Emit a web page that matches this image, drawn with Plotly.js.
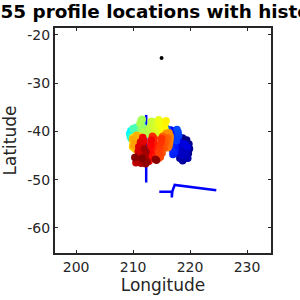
<!DOCTYPE html>
<html>
<head>
<meta charset="utf-8">
<script src="https://cdn.plot.ly/plotly-3.0.1.min.js"></script>
<style>html,body{margin:0;padding:0;background:#fff;}#chart{width:300px;height:300px;}</style>
</head>
<body>
<div id="chart"></div>
<script>
// Profile locations in time order (earliest first), colored by profile order (jet)
const profLon = [
  // earliest (dark blue)
  218.7,219.4,219.8,219.9,219.7,219.3,218.7,218.2,218.0,218.3,219.6,219.4,219.2,218.6,218.1,217.9,218.1,218.5,219.1,219.5,
  // blue
  217.7,217.9,217.6,217.2,216.6,216.3,216.4,216.8,217.3,217.4,217.3,217.0,217.0,216.6,216.5,217.0,217.6,218.0,217.9,217.7,
  // azure
  216.0,215.5,215.0,214.5,214.0,213.5,213.0,212.5,212.0,211.5,211.2,211.5,212.2,213.0,213.8,214.6,215.3,213.2,212.3,211.6,
  210.3,210.7,210.9,211.1,210.3,210.8,210.1,211.1,210.5,211.3,
  // cyan / aqua
  211.3,210.8,210.2,209.6,209.4,209.9,210.5,211.1,211.5,210.9,210.2,209.7,209.5,210.1,210.8,211.4,211.7,211.2,210.5,210.0,
  // green
  211.2,211.1,211.2,211.5,211.5,211.5,212.3,212.3,212.0,211.5,211.5,211.6,212.0,211.4,211.6,212.5,211.4,211.6,211.2,211.9,
  // yellow-green
  212.7,212.8,213.1,213.2,213.5,213.6,213.7,214.1,214.2,214.3,214.5,214.9,215.0,215.2,215.6,215.6,215.6,215.8,
  // orange
  210.9,210.4,210.0,209.9,210.2,210.0,209.9,210.2,210.5,210.6,210.4,210.6,211.2,209.95,210.1,210.3,
  216.1,215.8,216.3,216.5,216.5,216.4,216.3,216.1,215.8,216.0,216.1,
  // red
  215.2,215.6,215.6,215.4,215.1,214.8,214.5,214.5,214.7,214.9,215.0,
  213.4,213.7,213.7,213.5,213.3,213.0,212.8,212.7,212.9,213.1,213.2,
  211.7,211.9,211.7,211.3,211.0,210.9,211.5,211.3,
  // latest (dark red)
  210.9,210.6,210.5,211.0,211.4,211.8,212.1,212.3,212.0,212.5,212.2,213.9,214.1,210.3,211.6
];
const profLat = [
  -41.4,-41.8,-42.6,-43.6,-44.6,-45.5,-46.1,-45.6,-44.6,-43.7,-45.6,-43.8,-44.8,-45.0,-44.2,-43.1,-42.2,-42.6,-42.6,-43.2,
  -42.7,-41.7,-40.7,-39.9,-39.7,-40.4,-41.4,-42.3,-43.0,-43.6,-44.4,-44.8,-44.2,-43.4,-42.6,-41.4,-42.0,-40.9,-40.2,-39.6,
  -39.5,-38.7,-39.3,-40.0,-39.1,-38.5,-39.3,-40.1,-39.3,-38.7,-39.5,-40.3,-40.4,-40.4,-40.3,-38.5,-40.1,-38.1,-39.9,-39.9,
  -39.8,-40.3,-39.5,-40.0,-40.6,-40.7,-40.1,-39.3,-39.3,-40.5,
  -39.7,-39.4,-39.6,-39.9,-40.5,-40.8,-40.5,-40.7,-41.3,-41.5,-41.4,-41.6,-41.1,-40.1,-40.1,-40.3,-39.5,-39.1,-39.2,-39.4,
  -40.7,-39.9,-39.0,-38.2,-37.9,-38.8,-39.7,-40.4,-40.7,-40.3,-39.4,-39.1,-39.4,-39.7,-40.8,-40.5,-37.7,-37.5,-38.4,-40.0,
  -40.5,-39.5,-38.8,-37.9,-38.0,-39.0,-40.1,-40.7,-39.5,-38.5,-37.6,-38.1,-39.1,-40.1,-40.7,-39.5,-38.5,-37.8,
  -40.9,-41.0,-41.3,-41.9,-42.3,-42.7,-43.2,-43.5,-43.8,-42.0,-41.6,-40.8,-41.2,-41.6,-43.0,-42.6,
  -40.6,-40.4,-40.3,-40.9,-41.6,-42.3,-43.0,-43.4,-43.0,-42.2,-41.4,
  -41.0,-41.4,-42.4,-43.5,-44.5,-45.3,-45.6,-44.6,-43.4,-42.3,-41.5,
  -41.0,-41.5,-42.5,-43.6,-44.7,-45.7,-46.2,-45.2,-44.0,-42.8,-41.8,
  -41.3,-42.0,-43.0,-42.2,-43.2,-44.2,-44.0,-45.0,
  -45.0,-45.8,-46.5,-46.2,-46.6,-46.0,-45.2,-44.3,-43.6,-46.3,-46.7,-45.8,-46.0,-45.4,-45.6
];
// Historical track segments (blue)
const trackALon = [212.3, 212.3, 212.35, 212.3];
const trackALat = [-36.6, -40.0, -45.0, -50.6];
const trackBLon = [214.6, 216.8, 216.8, 216.9, 217.3, 224.6];
const trackBLat = [-52.5, -52.5, -53.7, -52.4, -51.1, -52.2];
// Single isolated location (black)
const dotLon = [215.0];
const dotLat = [-24.8];

const xTicks = [200, 210, 220, 230];
const xTickText = ['200', '210', '220', '230'];
const yTicks = [-60, -50, -40, -30, -20];
const yTickText = ['-60', '-50', '-40', '-30', '-20'];

const order = profLon.map((_, i) => i);
const jet = [[0,'rgb(0,0,128)'],[0.125,'rgb(0,0,255)'],[0.375,'rgb(0,255,255)'],[0.625,'rgb(255,255,0)'],[0.875,'rgb(255,0,0)'],[1,'rgb(128,0,0)']];

const traces = [
  {x: trackALon, y: trackALat, type: 'scatter', mode: 'lines', line: {color: 'rgb(0,0,255)', width: 2.5}, hoverinfo: 'skip'},
  {x: trackBLon, y: trackBLat, type: 'scatter', mode: 'lines', line: {color: 'rgb(0,0,255)', width: 2.5}, hoverinfo: 'skip'},
  {x: profLon, y: profLat, type: 'scatter', mode: 'markers',
   marker: {size: 7.5, color: order, colorscale: jet, cmin: 0, cmax: profLon.length - 1, line: {width: 0}, opacity: 1}},
  {x: dotLon, y: dotLat, type: 'scatter', mode: 'markers', marker: {size: 4, color: '#000'}}
];

const axisCommon = {
  showline: true, mirror: 'ticks', linecolor: '#262626', linewidth: 2,
  ticks: 'inside', ticklen: 3, tickwidth: 1, tickcolor: '#262626',
  showgrid: false, zeroline: false,
  tickfont: {family: 'DejaVu Sans', size: 14, color: '#262626'}
};

const layout = {
  width: 300, height: 300,
  margin: {l: 55, r: 29, t: 28, b: 47},
  paper_bgcolor: '#fff', plot_bgcolor: '#fff',
  showlegend: false,
  title: {text: '255 profile locations with historical', x: 0.571, xref: 'container', xanchor: 'center',
          y: 0.96, yref: 'container', yanchor: 'middle',
          font: {family: 'DejaVu Sans', size: 18.4, color: '#000', weight: 'bold'}},
  xaxis: Object.assign({}, axisCommon, {range: [196.3, 234.2], tickvals: xTicks, ticktext: xTickText,
          title: {text: 'Longitude', font: {family: 'DejaVu Sans', size: 17, color: '#262626'}, standoff: 4}}),
  yaxis: Object.assign({}, axisCommon, {range: [-65.2, -18.6], tickvals: yTicks, ticktext: yTickText,
          title: {text: 'Latitude', font: {family: 'DejaVu Sans', size: 17, color: '#262626'}, standoff: 6}})
};

Plotly.newPlot('chart', traces, layout, {staticPlot: true, displayModeBar: false});
</script>
</body>
</html>
